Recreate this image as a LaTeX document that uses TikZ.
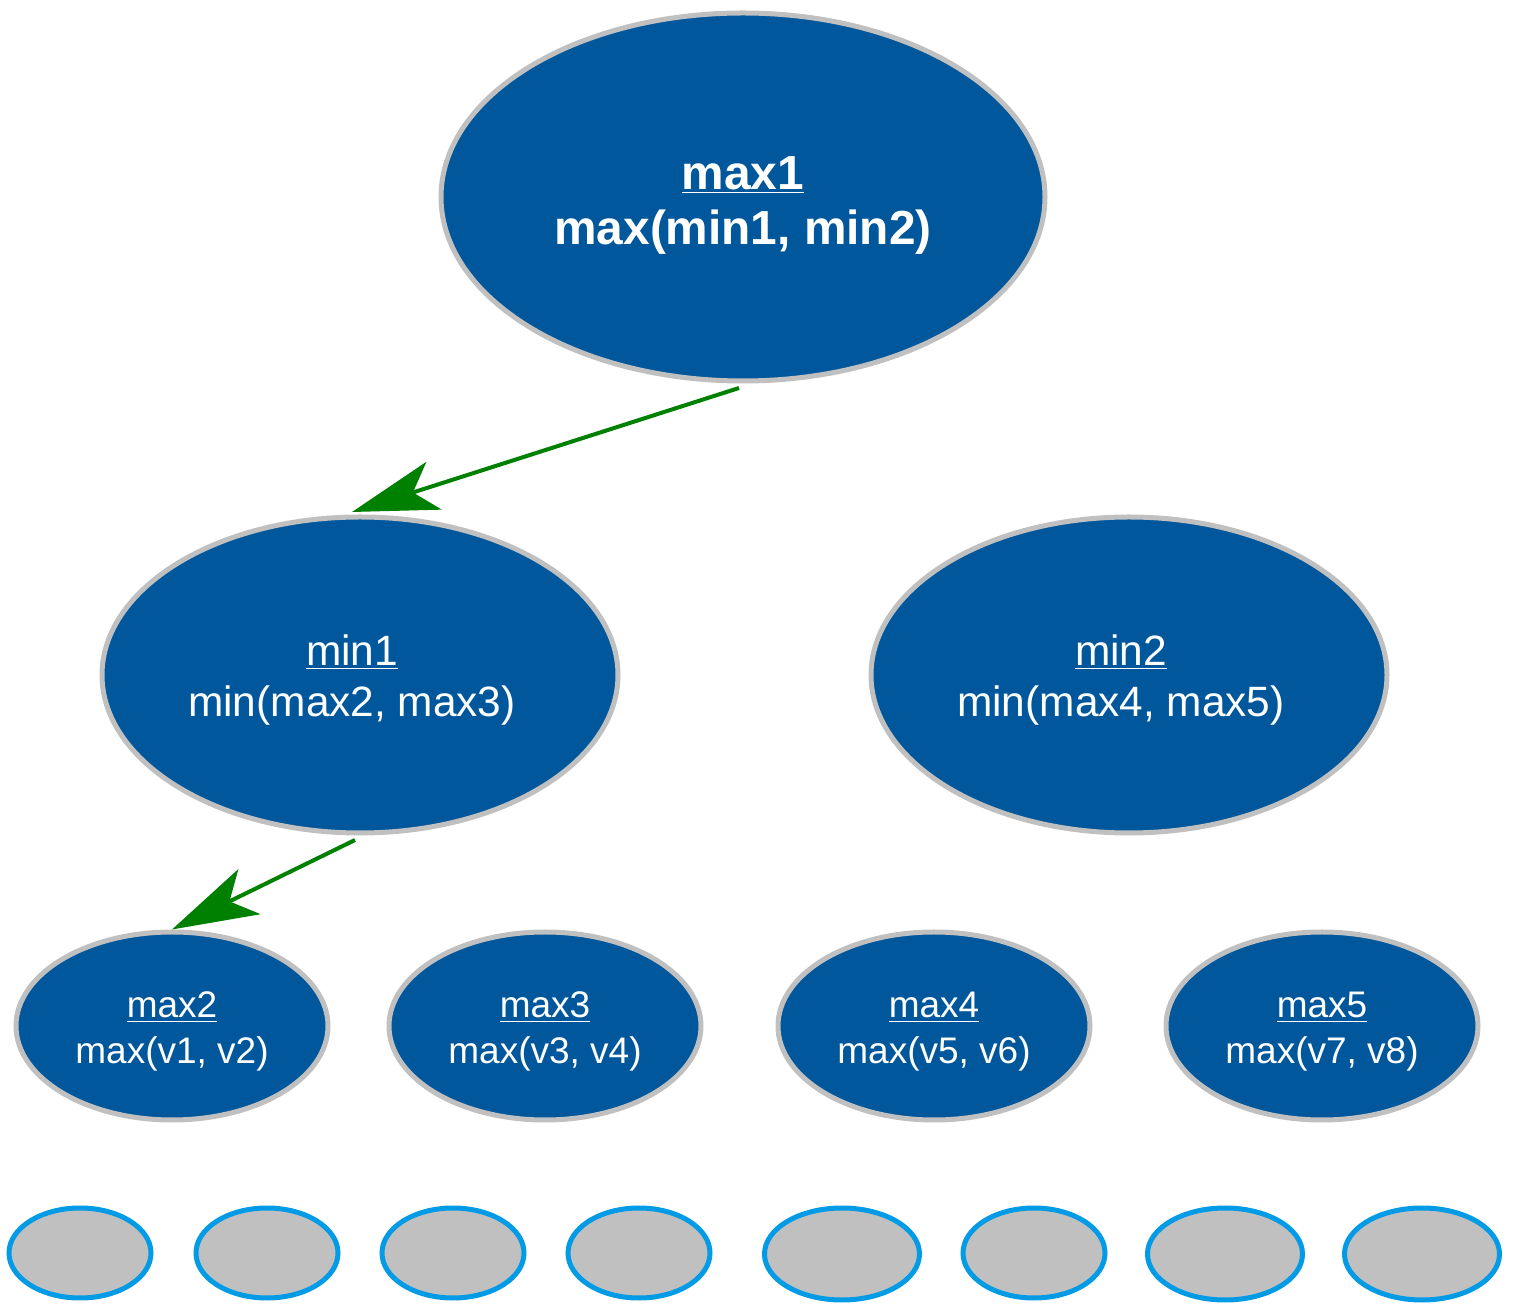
\documentclass[tikz,border=0pt]{standalone}
\usepackage{fontspec}
\setmainfont{Liberation Sans}
\usetikzlibrary{shapes.geometric}
\usetikzlibrary{arrows.meta}
\usetikzlibrary{calc}

\definecolor{azul}{RGB}{1,87,155}
\definecolor{borda}{RGB}{192,192,192}
\definecolor{cinza}{RGB}{192,192,192}
\definecolor{celeste}{RGB}{3,155,229}
\definecolor{verde}{RGB}{0,128,0}

% Recuo do texto dos nós min
\newcommand{\recuo}{\hspace*{8pt}}
% Altura da primeira linha
\newcommand{\alto}[1]{\rule{0pt}{#1}}

\begin{document}
\begin{tikzpicture}[x=0.5pt,y=-0.5pt,
	no/.style={ellipse,draw=borda,fill=azul,line width=2.5pt,text=white,align=center,inner sep=0pt},
	raiz/.style={no,minimum width=302pt,minimum height=184pt,font=\fontsize{23.9}{27.5}\selectfont\bfseries},
	meio/.style={no,minimum width=258pt,minimum height=158pt,font=\fontsize{21.2}{25.5}\selectfont},
	baixo/.style={no,minimum width=156pt,minimum height=94pt,font=\fontsize{18.5}{23}\selectfont},
	folha/.style={ellipse,draw=celeste,fill=cinza,line width=2.5pt,inner sep=0pt,minimum width=71pt,minimum height=45pt},
	larga/.style={folha,minimum width=77.5pt,minimum height=46pt},
	seta/.style={draw=verde,line width=2pt,-{Stealth[length=43pt,width=25pt,inset=11pt]}}]
	
	% A moldura
	\useasboundingbox (0,0) rectangle (1517,1309);
	
	% A raiz
	\node [raiz] (max1) at (743,197) {\alto{24.6pt}\underline{max1}\\max(min1, min2)};
	
	% Os nós min
	\node [meio] (min1) at (360,675) {\alto{20.7pt}\underline{min1}\recuo\\min(max2, max3)\recuo};
	\node [meio] (min2) at (1129,675) {\alto{20.7pt}\underline{min2}\recuo\\min(max4, max5)\recuo};
	
	% Os nós max
	\node [baixo] (max2) at (172,1026) {\alto{18.7pt}\underline{max2}\\max(v1, v2)};
	\node [baixo] (max3) at (545,1026) {\alto{18.7pt}\underline{max3}\\max(v3, v4)};
	\node [baixo] (max4) at (934,1026) {\alto{18.7pt}\underline{max4}\\max(v5, v6)};
	\node [baixo] (max5) at (1322,1026) {\alto{18.7pt}\underline{max5}\\max(v7, v8)};
	
	% As folhas
	\node [folha] (v1) at (80,1253) {};
	\node [folha] (v2) at (267,1253) {};
	\node [folha] (v3) at (453,1253) {};
	\node [folha] (v4) at (639,1253) {};
	\node [larga] (v5) at (842,1254) {};
	\node [folha] (v6) at (1034,1253) {};
	\node [larga] (v7) at (1225,1254) {};
	\node [larga] (v8) at (1422,1254) {};
	
	% A seta da raiz
	\draw [seta] ($(max1.south)+(-4,4.5)$) -- ($(min1.north)+(-8,-2.5)$);
	
	% A seta de min1
	\draw [seta] ($(min1.south)+(-5,4.5)$) -- (max2.north);
	
\end{tikzpicture}
\end{document}
